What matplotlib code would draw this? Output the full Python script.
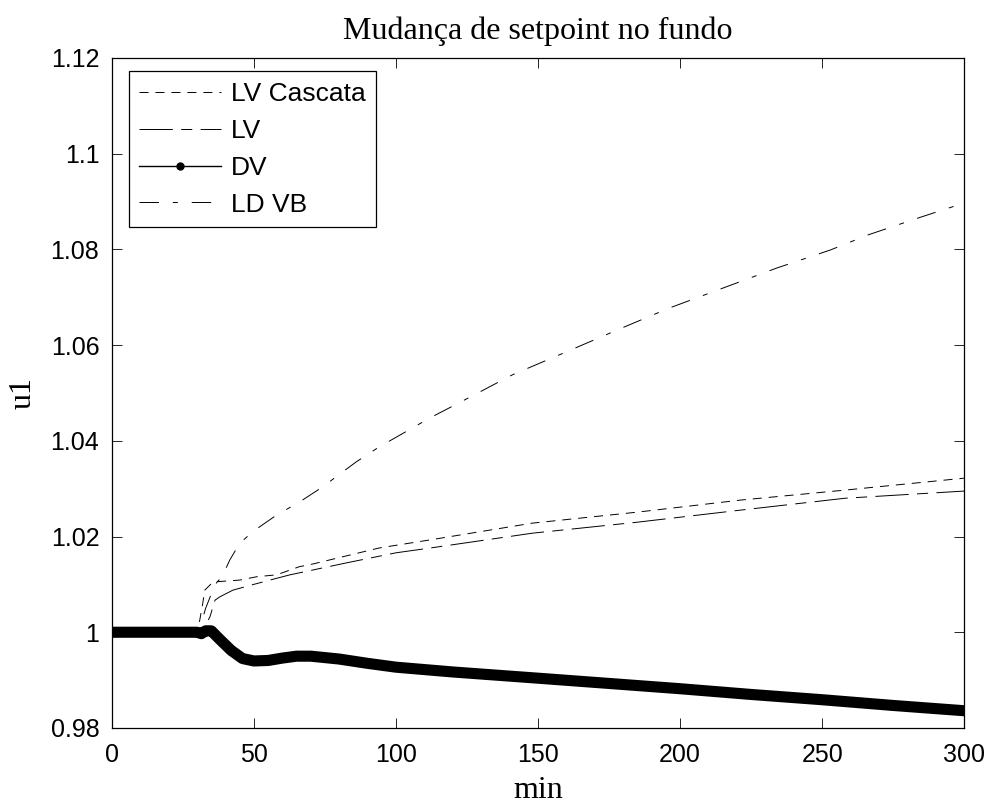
import numpy as np
import matplotlib
matplotlib.use("Agg")
import matplotlib.pyplot as plt
from matplotlib.lines import Line2D
from matplotlib.ticker import FuncFormatter

# curvas (min, u1)
t_cascata = [0, 30, 30.5, 32, 32.7, 35.6, 45, 51, 58, 66, 71, 94, 112, 148, 185, 221, 258, 300]
u_cascata = [1.0, 1.0, 1.0011, 1.0061, 1.0088, 1.0105, 1.0109, 1.0116, 1.0120, 1.0137, 1.0143,
             1.0176, 1.0193, 1.0228, 1.0251, 1.0276, 1.0297, 1.0322]

t_lv = [0, 30, 32, 34.5, 36.3, 38, 42.6, 49.3, 55.6, 62.7, 82.6, 100, 112, 148, 185, 221, 258, 300]
u_lv = [1.0, 1.0, 1.0005, 1.0032, 1.0067, 1.0074, 1.0088, 1.0099, 1.0109, 1.0120, 1.0145,
        1.0166, 1.0176, 1.0207, 1.0230, 1.0255, 1.0280, 1.0295]

t_dv = [0, 30, 31.5, 33, 35, 38, 42, 46, 50, 55, 60, 65, 70, 75, 80, 90, 100, 120, 150,
        175, 200, 225, 250, 275, 300]
u_dv = [1.0, 1.0, 0.9997, 1.0003, 1.0003, 0.9985, 0.9962, 0.9945, 0.9940, 0.9941, 0.9946,
        0.9950, 0.9950, 0.9947, 0.9944, 0.9935, 0.9927, 0.9917, 0.9904, 0.9893, 0.9882,
        0.9870, 0.9859, 0.9847, 0.9836]

t_ldvb = [0, 30, 31.5, 33, 35, 37, 38.7, 41.5, 45, 50, 58, 66, 74, 86, 94, 112, 124, 141,
          160, 178, 196, 215, 234, 253, 266, 285, 300]
u_ldvb = [1.0, 1.0, 1.0020, 1.0050, 1.0080, 1.0105, 1.0115, 1.0151, 1.0186, 1.0212, 1.0245,
          1.0272, 1.0303, 1.0356, 1.0387, 1.0448, 1.0485, 1.0538, 1.0586, 1.0632, 1.0677,
          1.0719, 1.0761, 1.0799, 1.0830, 1.0868, 1.0897]

labels = ['LV Cascata', 'LV', 'DV', 'LD VB']

plt.rcParams['lines.scale_dashes'] = False
sans = 'Liberation Sans'
serif = 'Liberation Serif'

fig = plt.figure(figsize=(9.9, 8.05), dpi=100)
ax = fig.add_axes([0.113, 0.0957, 0.861, 0.8323])

ax.plot(t_cascata, u_cascata, color='black', lw=0.7, dashes=(6.5, 5))
ax.plot(t_lv, u_lv, color='black', lw=0.7, dashes=(24, 6, 8, 6))
ax.plot(t_ldvb, u_ldvb, color='black', lw=0.7, dashes=(14, 10, 3.6, 10))
ax.plot(t_dv, u_dv, color='black', lw=8, solid_capstyle='round', solid_joinstyle='round')

ax.set_xlim(0, 300)
ax.set_ylim(0.98, 1.12)
ax.set_xticks(np.arange(0, 301, 50))
ax.set_yticks(np.arange(0.98, 1.1201, 0.02))
ax.yaxis.set_major_formatter(FuncFormatter(lambda v, p: '%g' % round(v, 2)))
ax.tick_params(direction='in', top=True, right=True, length=7, width=0.6,
               labelsize=18, pad=9)
ax.tick_params(axis='x', pad=11)
for lab in ax.get_xticklabels() + ax.get_yticklabels():
    lab.set_family(sans)
for s in ax.spines.values():
    s.set_linewidth(0.9)

ax.set_title('Mudança de setpoint no fundo', fontsize=23, family=serif, pad=14)
ax.set_xlabel('min', fontsize=23, family=serif, labelpad=6)
ax.set_ylabel('u1', fontsize=23, family=serif, labelpad=9)

handles = [
    Line2D([], [], color='black', lw=0.7, dashes=(6.5, 5)),
    Line2D([], [], color='black', lw=0.7, dashes=(24, 6, 8, 6)),
    Line2D([], [], color='black', lw=1, marker='o', markersize=5),
    Line2D([], [], color='black', lw=0.7, dashes=(14, 10, 3.6, 10)),
]
leg = ax.legend(handles, labels, loc='upper left', bbox_to_anchor=(0.02, 0.98),
                borderaxespad=0, fancybox=False, framealpha=1, edgecolor='black',
                prop={'family': sans, 'size': 19}, handlelength=3.1,
                handletextpad=0.35, borderpad=0.4, labelspacing=0.49)
leg.get_frame().set_linewidth(0.9)

fig.savefig('out.png', dpi=100)
